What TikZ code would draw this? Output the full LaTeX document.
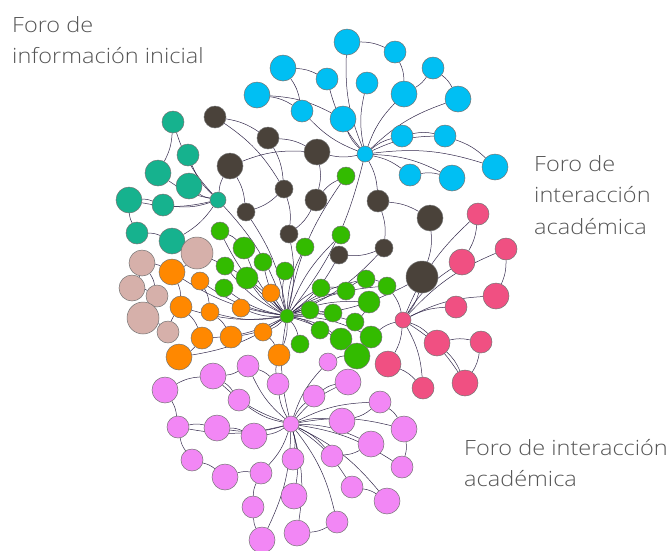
\documentclass[tikz,border=0pt]{standalone}
\usepackage{fontspec}
\setmainfont{Open Sans}[UprightFont={* Light}, FakeStretch=1.12]
\usepackage{tikz}
\usetikzlibrary{positioning, backgrounds}
\definecolor{sky}{RGB}{0,191,243}
\definecolor{umber}{RGB}{74,66,58}
\definecolor{teal}{RGB}{22,178,142}
\definecolor{rose}{RGB}{214,176,170}
\definecolor{orange}{RGB}{255,136,0}
\definecolor{leaf}{RGB}{51,187,0}
\definecolor{berry}{RGB}{240,80,130}
\definecolor{violet}{RGB}{242,135,245}
\definecolor{wire}{RGB}{50,40,75}
\definecolor{labelgray}{RGB}{85,85,85}
\newcommand\netnode[5]{\node[dot, fill=#5, minimum size=2*#4pt] (#1) at (#2,#3) {};}
\tikzset{dot/.style={circle, draw=black!55, line width=0.5pt, inner sep=0pt},
  link/.style={draw=wire, line width=0.5pt},
  forolabel/.style={anchor=north west, align=left, inner sep=0pt, text=labelgray, font=\fontsize{21}{31.5}\selectfont}}

\begin{document}
\begin{tikzpicture}[x=1pt, y=-1pt]
	\useasboundingbox (0,0) rectangle (669,550);
	% blue cluster
	\netnode{b0}{365}{154}{8}{sky}
	\netnode{b1}{347}{42}{13}{sky}
	\netnode{b2}{395}{52}{11}{sky}
	\netnode{b3}{433}{68}{11}{sky}
	\netnode{b4}{283}{68}{13}{sky}
	\netnode{b5}{327}{79}{11}{sky}
	\netnode{b6}{367}{83}{11}{sky}
	\netnode{b7}{404}{94}{13}{sky}
	\netnode{b8}{458}{99}{13}{sky}
	\netnode{b9}{257}{95}{13}{sky}
	\netnode{b10}{302}{111}{11}{sky}
	\netnode{b11}{343}{119}{13}{sky}
	\netnode{b12}{402}{136}{11}{sky}
	\netnode{b13}{445}{136}{11}{sky}
	\netnode{b14}{495}{167}{13}{sky}
	\netnode{b15}{410}{175}{11}{sky}
	\netnode{b16}{452}{178}{13}{sky}
	% dark cluster
	\netnode{d1}{215}{117}{11}{umber}
	\netnode{d2}{268}{138}{11}{umber}
	\netnode{d3}{230}{166}{13}{umber}
	\netnode{d4}{317}{152}{13}{umber}
	\netnode{d5}{284}{189}{9}{umber}
	\netnode{d6}{246}{212}{9}{umber}
	\netnode{d7}{316}{200}{11}{umber}
	\netnode{d8}{378}{201}{11}{umber}
	\netnode{d9}{430}{218}{13}{umber}
	\netnode{d10}{289}{234}{9}{umber}
	\netnode{d11}{339}{255}{9}{umber}
	\netnode{d12}{384}{248}{9}{umber}
	\netnode{d13}{422}{277}{16}{umber}
	% teal cluster
	\netnode{t1}{173}{122}{11}{teal}
	\netnode{t2}{188}{155}{11}{teal}
	\netnode{t3}{158}{173}{13}{teal}
	\netnode{t4}{189}{186}{13}{teal}
	\netnode{t5}{129}{200}{13}{teal}
	\netnode{t6}{163}{205}{11}{teal}
	\netnode{t7}{218}{200}{8}{teal}
	\netnode{t8}{137}{233}{11}{teal}
	\netnode{t9}{172}{241}{13}{teal}
	% rose cluster
	\netnode{p1}{197}{253}{16}{rose}
	\netnode{p2}{142}{263}{13}{rose}
	\netnode{p3}{132}{288}{13}{rose}
	\netnode{p4}{157}{296}{11}{rose}
	\netnode{p5}{143}{318}{16}{rose}
	\netnode{p6}{168}{332}{11}{rose}
	% orange cluster
	\netnode{o1}{172}{272}{13}{orange}
	\netnode{o2}{200}{281}{9}{orange}
	\netnode{o3}{181}{307}{11}{orange}
	\netnode{o4}{210}{312}{9}{orange}
	\netnode{o5}{241}{308}{9}{orange}
	\netnode{o6}{271}{293}{9}{orange}
	\netnode{o7}{202}{338}{11}{orange}
	\netnode{o8}{231}{337}{11}{orange}
	\netnode{o9}{263}{332}{9}{orange}
	\netnode{o10}{179}{357}{13}{orange}
	\netnode{o11}{279}{355}{11}{orange}
	% green cluster
	\netnode{g0}{287}{316}{7}{leaf}
	\netnode{g1}{346}{176}{9}{leaf}
	\netnode{g2}{220}{231}{9}{leaf}
	\netnode{g3}{244}{248}{11}{leaf}
	\netnode{g4}{263}{262}{9}{leaf}
	\netnode{g5}{225}{266}{9}{leaf}
	\netnode{g6}{247}{278}{11}{leaf}
	\netnode{g7}{285}{271}{9}{leaf}
	\netnode{g8}{305}{247}{9}{leaf}
	\netnode{g9}{224}{288}{9}{leaf}
	\netnode{g10}{341}{235}{9}{leaf}
	\netnode{g11}{310}{310}{9}{leaf}
	\netnode{g12}{321}{288}{9}{leaf}
	\netnode{g13}{333}{313}{9}{leaf}
	\netnode{g14}{320}{330}{9}{leaf}
	\netnode{g15}{341}{339}{11}{leaf}
	\netnode{g16}{300}{344}{9}{leaf}
	\netnode{g17}{346}{291}{9}{leaf}
	\netnode{g18}{366}{279}{9}{leaf}
	\netnode{g19}{387}{286}{9}{leaf}
	\netnode{g20}{369}{302}{11}{leaf}
	\netnode{g21}{355}{322}{9}{leaf}
	\netnode{g22}{371}{337}{11}{leaf}
	\netnode{g23}{357}{356}{13}{leaf}
	% berry cluster
	\netnode{r0}{403}{320}{8}{berry}
	\netnode{r1}{478}{214}{11}{berry}
	\netnode{r2}{506}{249}{11}{berry}
	\netnode{r3}{462}{262}{13}{berry}
	\netnode{r4}{496}{296}{13}{berry}
	\netnode{r5}{456}{307}{11}{berry}
	\netnode{r6}{437}{343}{13}{berry}
	\netnode{r7}{481}{342}{11}{berry}
	\netnode{r8}{388}{364}{13}{berry}
	\netnode{r9}{423}{388}{11}{berry}
	\netnode{r10}{465}{383}{13}{berry}
	% violet cluster
	\netnode{v0}{291}{424}{8}{violet}
	\netnode{v1}{328}{362}{9}{violet}
	\netnode{v2}{248}{366}{11}{violet}
	\netnode{v3}{213}{376}{13}{violet}
	\netnode{v4}{165}{390}{13}{violet}
	\netnode{v5}{278}{384}{11}{violet}
	\netnode{v6}{348}{382}{13}{violet}
	\netnode{v7}{239}{400}{11}{violet}
	\netnode{v8}{314}{396}{11}{violet}
	\netnode{v9}{380}{402}{11}{violet}
	\netnode{v10}{178}{427}{11}{violet}
	\netnode{v11}{217}{428}{13}{violet}
	\netnode{v12}{254}{436}{13}{violet}
	\netnode{v13}{342}{421}{13}{violet}
	\netnode{v14}{404}{429}{13}{violet}
	\netnode{v15}{371}{444}{13}{violet}
	\netnode{v16}{192}{460}{11}{violet}
	\netnode{v17}{293}{459}{11}{violet}
	\netnode{v18}{332}{456}{11}{violet}
	\netnode{v19}{402}{467}{11}{violet}
	\netnode{v20}{225}{477}{13}{violet}
	\netnode{v21}{261}{473}{11}{violet}
	\netnode{v22}{352}{487}{11}{violet}
	\netnode{v23}{294}{496}{13}{violet}
	\netnode{v24}{387}{501}{13}{violet}
	\netnode{v25}{253}{507}{11}{violet}
	\netnode{v26}{337}{522}{11}{violet}
	\netnode{v27}{297}{533}{13}{violet}
	\netnode{v28}{262}{540}{13}{violet}
	% links
	\begin{scope}[on background layer]
		\foreach \a/\b in {b0/b1, b0/b5, b0/b6, b0/b7, b0/b8, b0/b10, b0/b11, b0/b12, b0/b13, b0/b14, b0/b15, b0/b16,
			b1/b2, b2/b7, b3/b8, b3/b7, b4/b5, b4/b10, b9/b10, b9/b11, b12/b13, b13/b14, b15/b16, b0/d4, b0/d8, b0/g0,
			d1/d2, d1/d5, d2/d5, d2/d4, d3/d6, d3/d4, d4/d7, d5/d6, d5/d10, d7/g1, d7/d10, d8/d9, d8/d12, d9/d13,
			d12/d11, d13/r0, d11/g0, d10/g0, d6/g0, d12/g0, d13/g0,
			t7/t1, t7/t2, t7/t3, t7/t4, t7/t5, t7/t6, t7/t9, t1/t3, t5/t6, t8/t9, t8/t5, t7/g0, t7/d3,
			p2/p4, p3/p4, p4/p5, p5/p6, p2/p3, p1/o1, p2/o1, p6/o3, p1/g0,
			g0/o1, g0/o2, g0/o3, g0/o4, g0/o5, g0/o6, g0/o7, g0/o8, g0/o9, g0/o10, g0/o11,
			o1/o3, o2/o4, o3/o7, o7/o10, o4/o8, o9/o11,
			g0/g1, g0/g2, g0/g3, g0/g4, g0/g5, g0/g6, g0/g7, g0/g8, g0/g9, g0/g10, g0/g11, g0/g12,
			g0/g13, g0/g14, g0/g15, g0/g16, g0/g17, g0/g18, g0/g19, g0/g20, g0/g21, g0/g22, g0/g23,
			g2/g3, g12/g17, g17/g18, g18/g19, g20/g21, g15/g23, g22/r0, g19/r0,
			r0/r1, r0/r2, r0/r3, r0/r4, r0/r5, r0/r6, r0/r8, r0/r9, r0/r10, r1/r3, r2/r4, r6/r7, r7/r10, r6/r10, r8/r9,
			v0/v1, v0/v2, v0/v3, v0/v5, v0/v6, v0/v7, v0/v8, v0/v9, v0/v11, v0/v12, v0/v13, v0/v14, v0/v15,
			v0/v17, v0/v18, v0/v19, v0/v21, v0/v22, v0/v23, v0/v24, v0/v26, v0/v27, v0/v28, v0/v10,
			v2/v3, v3/v7, v4/v3, v4/v10, v2/v5, v8/v6, v9/v13, v9/v14, v10/v11, v16/v20, v20/v21, v14/v19,
			v15/v18, v22/v24, v26/v27, v28/v25, v11/v12, v16/v10, v25/v21, v0/g0, v1/g23, v5/o11}
			\draw[link] (\a) to[bend left=12] (\b);
	\end{scope}
	% labels
	\node[forolabel] (info) at (12,16) {Foro de\\información inicial};
	\node[forolabel] (acad1) at (534,155) {Foro de\\interacción\\académica};
	\node[forolabel] (acad2) at (464,439) {Foro de interacción\\académica};
\end{tikzpicture}
\end{document}
